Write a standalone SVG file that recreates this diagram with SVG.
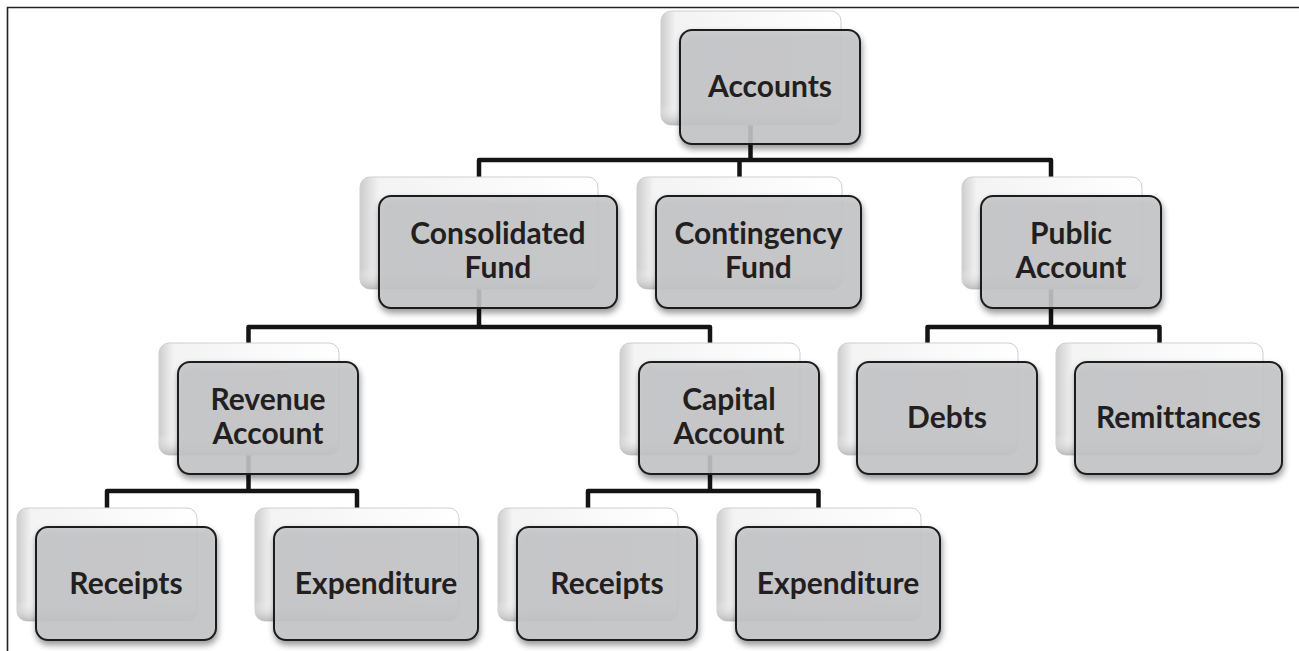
<svg xmlns="http://www.w3.org/2000/svg" width="1299" height="651" viewBox="0 0 1299 651">
<defs>
<linearGradient id="gh" x1="0" y1="0" x2="1" y2="0">
<stop offset="0" stop-color="#cdcdcd"/>
<stop offset="0.08" stop-color="#f3f3f3"/>
<stop offset="1" stop-color="#ffffff"/>
</linearGradient>
<linearGradient id="gv" x1="0" y1="0" x2="0" y2="1">
<stop offset="0" stop-color="#ffffff" stop-opacity="0"/>
<stop offset="0.82" stop-color="#ffffff" stop-opacity="0"/>
<stop offset="1" stop-color="#b5b5b5" stop-opacity="0.85"/>
</linearGradient>
<filter id="sh" x="-10%" y="-10%" width="130%" height="140%">
<feDropShadow dx="1" dy="4" stdDeviation="3" flood-color="#000" flood-opacity="0.45"/>
</filter>
</defs>
<style>
.bk{fill:url(#gh);stroke:#cfcfcf;stroke-width:1}
.bv{fill:url(#gv);stroke:none}
.fr{fill:#c6c7c9;fill-opacity:0.86;stroke:#1e1e1e;stroke-width:2;filter:url(#sh)}
.t{font-family:Lato,"Liberation Sans",sans-serif;font-weight:bold;font-size:30px;fill:#231f20;text-anchor:middle;font-variant-ligatures:none}
.c{fill:none;stroke:#141414;stroke-width:4.5;stroke-linejoin:round;stroke-linecap:butt}
.frame{fill:none;stroke:#222;stroke-width:1.6}
</style>
<rect width="1299" height="651" fill="#fff"/>
<path class="frame" d="M7.5 651 V7.5 H1299"/>
<g id="connectors">
<path class="c" d="M750.5 68 V160 M479 177 V160 H1051 V177 M739.5 160 V177"/>
<path class="c" d="M479 233 V327 M248.5 343 V327 H710 V343"/>
<path class="c" d="M1051 233 V327 M927.5 343 V327 H1159.5 V343"/>
<path class="c" d="M248.5 399 V491 M107 508 V491 H357 V508"/>
<path class="c" d="M710 399 V491 M588 508 V491 H818.5 V508"/>
</g>
<g id="accounts">
<rect class="bk" x="661" y="11" width="180" height="114" rx="10"/><rect class="bv" x="661" y="11" width="180" height="114" rx="10"/>
<rect class="fr" x="680" y="30" width="180" height="114" rx="12"/>
<text class="t" x="770" y="97">Accounts</text>
</g>
<g id="consolidated">
<rect class="bk" x="360" y="177" width="238" height="112" rx="10"/><rect class="bv" x="360" y="177" width="238" height="112" rx="10"/>
<rect class="fr" x="379" y="196" width="238" height="112" rx="12"/>
<text class="t" x="498" y="244">Consolidated</text><text class="t" x="498" y="278">Fund</text>
</g>
<g id="contingency">
<rect class="bk" x="637" y="177" width="205" height="112" rx="10"/><rect class="bv" x="637" y="177" width="205" height="112" rx="10"/>
<rect class="fr" x="656" y="196" width="205" height="112" rx="12"/>
<text class="t" x="758.5" y="244">Contingency</text><text class="t" x="758.5" y="278">Fund</text>
</g>
<g id="public">
<rect class="bk" x="962" y="177" width="180" height="112" rx="10"/><rect class="bv" x="962" y="177" width="180" height="112" rx="10"/>
<rect class="fr" x="981" y="196" width="180" height="112" rx="12"/>
<text class="t" x="1071" y="244">Public</text><text class="t" x="1071" y="278">Account</text>
</g>
<g id="revenue">
<rect class="bk" x="159" y="343" width="180" height="112" rx="10"/><rect class="bv" x="159" y="343" width="180" height="112" rx="10"/>
<rect class="fr" x="178" y="362" width="180" height="112" rx="12"/>
<text class="t" x="268" y="410">Revenue</text><text class="t" x="268" y="444">Account</text>
</g>
<g id="capital">
<rect class="bk" x="620" y="343" width="180" height="112" rx="10"/><rect class="bv" x="620" y="343" width="180" height="112" rx="10"/>
<rect class="fr" x="639" y="362" width="180" height="112" rx="12"/>
<text class="t" x="729" y="410">Capital</text><text class="t" x="729" y="444">Account</text>
</g>
<g id="debts">
<rect class="bk" x="838" y="343" width="180" height="112" rx="10"/><rect class="bv" x="838" y="343" width="180" height="112" rx="10"/>
<rect class="fr" x="857" y="362" width="180" height="112" rx="12"/>
<text class="t" x="947" y="428">Debts</text>
</g>
<g id="remittances">
<rect class="bk" x="1056" y="343" width="207" height="112" rx="10"/><rect class="bv" x="1056" y="343" width="207" height="112" rx="10"/>
<rect class="fr" x="1075" y="362" width="207" height="112" rx="12"/>
<text class="t" x="1178.5" y="428">Remittances</text>
</g>
<g id="receipts1">
<rect class="bk" x="17" y="508" width="180" height="113" rx="10"/><rect class="bv" x="17" y="508" width="180" height="113" rx="10"/>
<rect class="fr" x="36" y="527" width="180" height="113" rx="12"/>
<text class="t" x="126" y="594">Receipts</text>
</g>
<g id="expenditure1">
<rect class="bk" x="255" y="508" width="204" height="113" rx="10"/><rect class="bv" x="255" y="508" width="204" height="113" rx="10"/>
<rect class="fr" x="274" y="527" width="204" height="113" rx="12"/>
<text class="t" x="376" y="594">Expenditure</text>
</g>
<g id="receipts2">
<rect class="bk" x="498" y="508" width="180" height="113" rx="10"/><rect class="bv" x="498" y="508" width="180" height="113" rx="10"/>
<rect class="fr" x="517" y="527" width="180" height="113" rx="12"/>
<text class="t" x="607" y="594">Receipts</text>
</g>
<g id="expenditure2">
<rect class="bk" x="717" y="508" width="204" height="113" rx="10"/><rect class="bv" x="717" y="508" width="204" height="113" rx="10"/>
<rect class="fr" x="736" y="527" width="204" height="113" rx="12"/>
<text class="t" x="838" y="594">Expenditure</text>
</g>
</svg>
